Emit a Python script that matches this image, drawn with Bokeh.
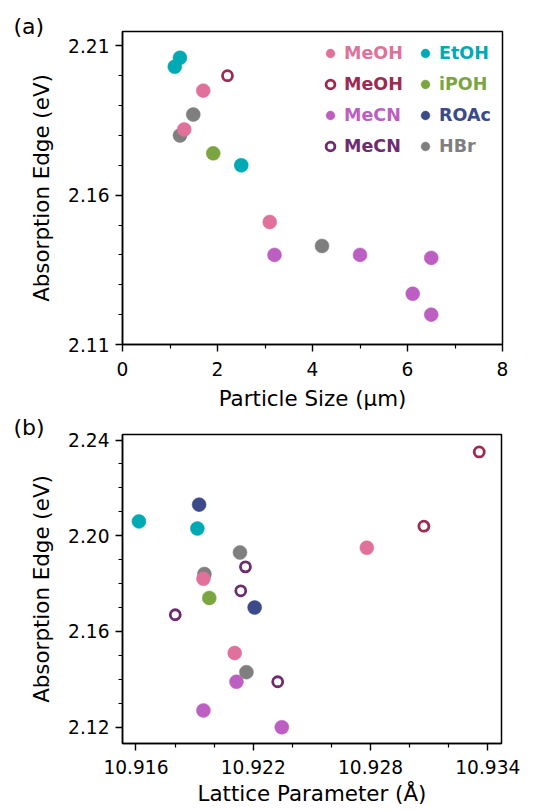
from bokeh.plotting import figure
from bokeh.models import Range1d, FixedTicker, PrintfTickFormatter, Legend, LegendItem, Title
from bokeh.layouts import column
from bokeh.core.properties import value
from bokeh.embed import file_html
from bokeh.resources import INLINE

FONT = "DejaVu Sans"

# ---------------- series definitions ----------------
series_keys = ["MeOH", "MeOH_open", "MeCN", "MeCN_open", "EtOH", "iPOH", "ROAc", "HBr"]
series_labels = {"MeOH": "MeOH", "MeOH_open": "MeOH", "MeCN": "MeCN", "MeCN_open": "MeCN",
                 "EtOH": "EtOH", "iPOH": "iPOH", "ROAc": "ROAc", "HBr": "HBr"}
series_colors = {"MeOH": "#E0719A", "MeOH_open": "#9C2A52", "MeCN": "#BD5EC3",
                 "MeCN_open": "#6E2C70", "EtOH": "#00AAB5", "iPOH": "#7BA541",
                 "ROAc": "#3B4A88", "HBr": "#7F7F7F"}
series_open = {"MeOH_open", "MeCN_open"}
draw_order = ["HBr", "MeOH", "MeOH_open", "MeCN", "MeCN_open", "EtOH", "iPOH", "ROAc"]

# ---------------- panel (a): particle size (um) vs absorption edge (eV) ----------------
size_MeOH = [1.70, 1.30, 3.10]
edge_a_MeOH = [2.195, 2.182, 2.151]
size_MeOH_open = [2.21]
edge_a_MeOH_open = [2.200]
size_MeCN = [3.20, 5.00, 6.50, 6.11, 6.50]
edge_a_MeCN = [2.140, 2.140, 2.139, 2.127, 2.120]
size_MeCN_open = []
edge_a_MeCN_open = []
size_EtOH = [1.10, 1.21, 2.50]
edge_a_EtOH = [2.203, 2.206, 2.170]
size_iPOH = [1.91]
edge_a_iPOH = [2.174]
size_ROAc = []
edge_a_ROAc = []
size_HBr = [1.49, 1.21, 4.20]
edge_a_HBr = [2.187, 2.180, 2.143]

# ---------------- panel (b): lattice parameter (A) vs absorption edge (eV) ----------------
lat_MeOH = [10.92781, 10.91945, 10.92105]
edge_b_MeOH = [2.195, 2.182, 2.151]
lat_MeOH_open = [10.93356, 10.93073]
edge_b_MeOH_open = [2.235, 2.204]
lat_MeCN = [10.92114, 10.91945, 10.92346]
edge_b_MeCN = [2.139, 2.127, 2.120]
lat_MeCN_open = [10.92160, 10.92136, 10.91801, 10.92325]
edge_b_MeCN_open = [2.187, 2.177, 2.167, 2.139]
lat_EtOH = [10.91615, 10.91914]
edge_b_EtOH = [2.206, 2.203]
lat_iPOH = [10.91975]
edge_b_iPOH = [2.174]
lat_ROAc = [10.91923, 10.92207]
edge_b_ROAc = [2.213, 2.170]
lat_HBr = [10.92132, 10.91950, 10.92165]
edge_b_HBr = [2.193, 2.184, 2.143]

# axis ticks
xa_ticks = [0, 2, 4, 6, 8]
xa_minor = [1, 3, 5, 7]
ya_ticks = [2.11, 2.16, 2.21]
ya_minor = [2.12, 2.13, 2.14, 2.15, 2.17, 2.18, 2.19, 2.20]
xb_ticks = [10.916, 10.922, 10.928, 10.934]
xb_minor = [10.918, 10.920, 10.924, 10.926, 10.930, 10.932]
yb_ticks = [2.12, 2.16, 2.20, 2.24]
yb_minor = [2.13, 2.14, 2.15, 2.17, 2.18, 2.19, 2.21, 2.22, 2.23]

data_a = {"MeOH": (size_MeOH, edge_a_MeOH), "MeOH_open": (size_MeOH_open, edge_a_MeOH_open),
          "MeCN": (size_MeCN, edge_a_MeCN), "MeCN_open": (size_MeCN_open, edge_a_MeCN_open),
          "EtOH": (size_EtOH, edge_a_EtOH), "iPOH": (size_iPOH, edge_a_iPOH),
          "ROAc": (size_ROAc, edge_a_ROAc), "HBr": (size_HBr, edge_a_HBr)}
data_b = {"MeOH": (lat_MeOH, edge_b_MeOH), "MeOH_open": (lat_MeOH_open, edge_b_MeOH_open),
          "MeCN": (lat_MeCN, edge_b_MeCN), "MeCN_open": (lat_MeCN_open, edge_b_MeCN_open),
          "EtOH": (lat_EtOH, edge_b_EtOH), "iPOH": (lat_iPOH, edge_b_iPOH),
          "ROAc": (lat_ROAc, edge_b_ROAc), "HBr": (lat_HBr, edge_b_HBr)}

TICK_FS = "18.6px"
LABEL_FS = "21.4px"
NAN = float("nan")


def style(p, xt, xm, yt, ym, xfmt, yfmt, xlab, ylab, xl_standoff, ax_standoff):
    p.xgrid.visible = False
    p.ygrid.visible = False
    p.outline_line_color = "black"
    p.outline_line_width = 1.5
    p.background_fill_color = "white"
    p.border_fill_color = "white"
    p.xaxis.ticker = FixedTicker(ticks=xt, minor_ticks=xm)
    p.yaxis.ticker = FixedTicker(ticks=yt, minor_ticks=ym)
    p.xaxis.formatter = PrintfTickFormatter(format=xfmt)
    p.yaxis.formatter = PrintfTickFormatter(format=yfmt)
    p.xaxis.axis_label = xlab
    p.yaxis.axis_label = ylab
    for ax in (p.xaxis, p.yaxis):
        ax.axis_line_color = "black"
        ax.axis_line_width = 1.5
        ax.major_tick_line_color = "black"
        ax.major_tick_line_width = 1.4
        ax.minor_tick_line_color = "black"
        ax.minor_tick_line_width = 1.2
        ax.major_tick_out = 7
        ax.major_tick_in = 0
        ax.minor_tick_out = 4
        ax.minor_tick_in = 0
        ax.major_label_text_font = FONT
        ax.major_label_text_font_size = TICK_FS
        ax.major_label_text_color = "black"
        ax.axis_label_text_font = FONT
        ax.axis_label_text_font_size = LABEL_FS
        ax.axis_label_text_font_style = "normal"
        ax.axis_label_text_color = "black"
    p.xaxis.major_label_standoff = xl_standoff
    p.xaxis.axis_label_standoff = ax_standoff
    p.yaxis.major_label_standoff = 6
    p.yaxis.axis_label_standoff = 11


def add_points(p, data):
    rends = {}
    for key in draw_order:
        xs, ys = data[key]
        if len(xs) == 0:
            # legend-only series: nothing is plotted, but the legend glyph is drawn
            xs, ys = [NAN], [NAN]
        c = series_colors[key]
        if key in series_open:
            r = p.scatter(xs, ys, marker="circle", size=10, fill_color=None,
                          line_color=c, line_width=2.8)
        else:
            r = p.scatter(xs, ys, marker="circle", size=14, fill_color=c,
                          line_color=c, line_width=0.5)
        rends[key] = r
    return rends


def panel_tag(p, text, standoff):
    p.title = Title(text=text, align="left", offset=-109, standoff=standoff,
                    vertical_align="bottom", text_font=FONT, text_font_size="22px",
                    text_font_style="normal", text_color="black")


# ---------------- figure (a) ----------------
pa = figure(frame_width=380, frame_height=313, min_border_left=122, min_border_right=38,
            min_border_top=31, min_border_bottom=72,
            x_range=Range1d(0, 8), y_range=Range1d(2.11, 2.2148),
            output_backend="svg", toolbar_location=None)
style(pa, xa_ticks, xa_minor, ya_ticks, ya_minor, "%.0f", "%.2f",
      "Particle Size (µm)", "Absorption Edge (eV)", 10, 7)
rend_a = add_points(pa, data_a)

legend_order = ["MeOH", "MeOH_open", "MeCN", "MeCN_open", "EtOH", "iPOH", "ROAc", "HBr"]
LEG_X = [197, 292]
LEG_Y = [280, 249, 218, 187]
for i, key in enumerate(legend_order):
    col, row = divmod(i, 4)
    leg = Legend(items=[LegendItem(label=value(series_labels[key]), renderers=[rend_a[key]])],
                 location=(LEG_X[col], LEG_Y[row]), orientation="vertical",
                 padding=0, margin=0, spacing=0, glyph_width=22, glyph_height=22,
                 label_standoff=3, label_height=22,
                 label_text_font=FONT, label_text_font_style="bold",
                 label_text_font_size="17.5px", label_text_color=series_colors[key],
                 label_text_baseline="middle",
                 background_fill_alpha=0, border_line_alpha=0)
    pa.add_layout(leg)

panel_tag(pa, "(a)", -14)

# ---------------- figure (b) ----------------
pb = figure(frame_width=379, frame_height=309, min_border_left=122, min_border_right=39,
            min_border_top=18, min_border_bottom=66,
            x_range=Range1d(10.91531, 10.9347), y_range=Range1d(2.1132, 2.2423),
            output_backend="svg", toolbar_location=None)
style(pb, xb_ticks, xb_minor, yb_ticks, yb_minor, "%.3f", "%.2f",
      "Lattice Parameter (Å)", "Absorption Edge (eV)", 9, 4)
rend_b = add_points(pb, data_b)

panel_tag(pb, "(b)", -11)

layout = column(pa, pb, spacing=0)
open("out.html", "w").write(file_html(layout, INLINE))
